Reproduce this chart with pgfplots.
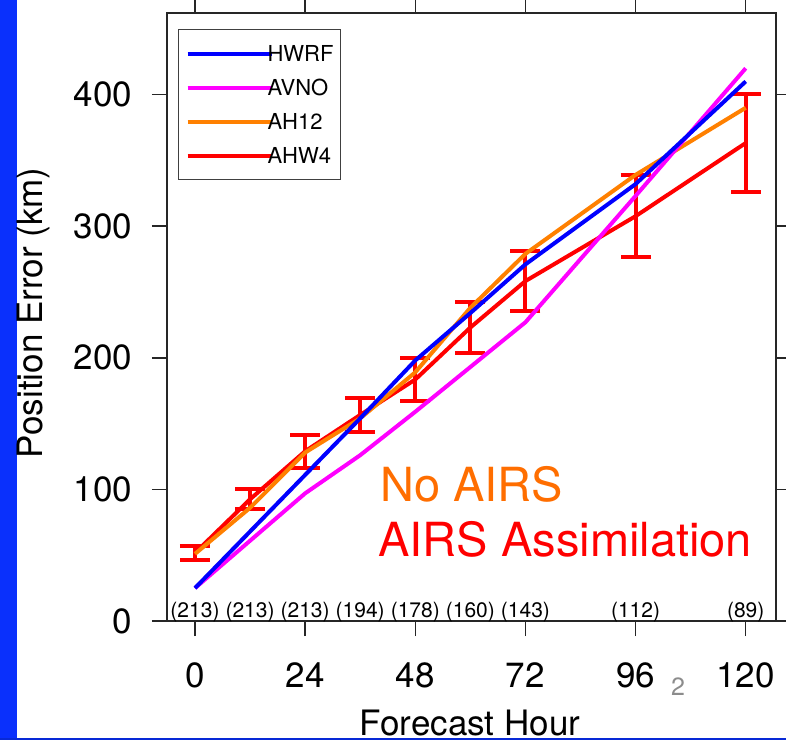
\documentclass[border=0pt]{standalone}
\usepackage{fontspec}
\setmainfont{TeX Gyre Heros}
\usepackage{pgfplots}
\pgfplotsset{compat=1.18}
\definecolor{slideblue}{RGB}{10,48,252}
\definecolor{hwrf}{RGB}{0,0,255}
\definecolor{avno}{RGB}{255,0,255}
\definecolor{ahtw}{RGB}{255,128,0}
\definecolor{ahw}{RGB}{255,0,0}
\definecolor{noairs}{RGB}{255,110,0}
\begin{document}
\begin{tikzpicture}
\path[use as bounding box] (-83.5pt,-59.5pt) rectangle (309.5pt,310.5pt);
\fill[white] (-83.5pt,-59.5pt) rectangle (309.5pt,310.5pt);
\fill[slideblue] (-83.5pt,-59.5pt) rectangle (-75pt,310.5pt);
\fill[slideblue!85!black] (-83.5pt,-59.5pt) rectangle (309.5pt,-58.5pt);
\begin{axis}[
  at={(0,0)}, anchor=south west,
  scale only axis, width=304.5pt, height=304pt,
  xmin=-6.1, xmax=126.6, ymin=0, ymax=462,
  xtick={0,24,48,72,96,120}, ytick={0,100,200,300,400},
  tick align=outside, major tick length=7.5pt,
  axis line style={line width=0.7pt, black!85},
  every tick/.style={line width=0.7pt, black!85},
  tick label style={font=\fontsize{17.5}{20}\selectfont},
  xticklabel style={yshift=-10pt},
  yticklabel style={xshift=-6.5pt},
  /pgf/number format/assume math mode=true,
  xlabel={Forecast Hour}, ylabel={Position Error (km)},
  label style={font=\fontsize{17.5}{20}\selectfont},
  xlabel style={at={(axis description cs:0.4975,-0.1875)}, anchor=base},
  ylabel style={at={(axis description cs:-0.22,0.507)}, anchor=center},
  reverse legend,
  legend style={at={(axis description cs:0.018,0.9737)}, anchor=north west,
    draw=black!75, line width=0.6pt, inner xsep=3.5pt, inner ysep=3.5pt,
    row sep=0pt, font=\fontsize{11}{13}\selectfont,
    nodes={inner sep=0pt, text height=12.25pt, text depth=4.75pt},
    /tikz/every odd column/.append style={column sep=-3pt},
    cells={anchor=west}},
  legend image code/.code={\draw[#1] (0pt,0pt) -- (42pt,0pt);},
]
\addplot[ahw, line width=2pt,
  error bars/.cd, y dir=both, y explicit,
  error bar style={line width=2pt, ahw},
  error mark options={rotate=90, mark size=7.5pt, line width=2pt, ahw}]
  coordinates {
  (0,51.7) +- (0,5.3)
  (12,92.5) +- (0,7.5)
  (24,129) +- (0,12.5)
  (36,156.6) +- (0,13)
  (48,183.5) +- (0,16.5)
  (60,223) +- (0,19.4)
  (72,258.3) +- (0,22.6)
  (96,307.6) +- (0,31)
  (120,363.2) +- (0,37.5)
  };
\addlegendentry{AHW4}
\addplot[ahtw, line width=2pt] coordinates {
  (0,51) (12,86) (24,128) (36,154) (48,189) (60,238) (72,279) (96,339) (120,390)};
\addlegendentry{AH12}
\addplot[avno, line width=2pt] coordinates {
  (0,25) (12,61) (24,97) (36,126) (48,159) (60,193) (72,227) (96,323) (120,420)};
\addlegendentry{AVNO}
\addplot[hwrf, line width=2pt] coordinates {
  (0,25) (12,68) (24,111) (36,154) (48,198) (60,234) (72,271) (96,332) (120,410)};
\addlegendentry{HWRF}
\foreach \h/\n in {0/213,12/213,24/213,36/194,48/178,60/160,72/143,96/112,120/89}{
  \edef\tmp{\noexpand\node[anchor=base, inner sep=0pt, font=\noexpand\fontsize{10.5}{12}\noexpand\selectfont] at (axis cs:\h,2.3) {(\n)};}\tmp
}
\node[anchor=base west, inner sep=0pt, text=noairs, font=\fontsize{23.5}{28}\selectfont] at (axis cs:40.3,90.7) {No AIRS};
\node[anchor=base west, inner sep=0pt, text=ahw, font=\fontsize{23.5}{28}\selectfont] at (axis cs:39.9,48.9) {AIRS Assimilation};
\end{axis}
\node[anchor=base, inner sep=0pt, text=black!45, font=\fontsize{12.5}{15}\selectfont] at (255.5pt,-37pt) {2};
\end{tikzpicture}
\end{document}
